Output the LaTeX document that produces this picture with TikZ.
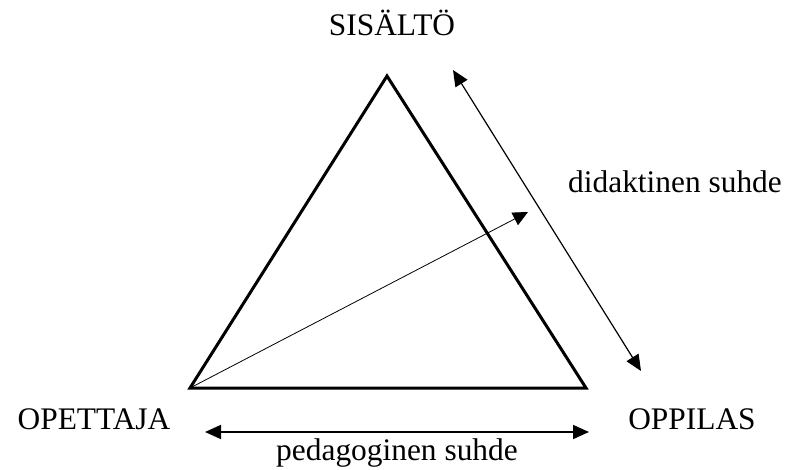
\documentclass[tikz,border=0pt]{standalone}
\usepackage{fontspec}
\setmainfont{Liberation Serif}
\usetikzlibrary{arrows.meta}

\begin{document}
\begin{tikzpicture}[
    x=0.5pt, y=-0.5pt,
    % Define the style for the triangle sides
    side/.style={line width=1.5pt, line join=miter},
    % Define the style for the relation arrows
    rel/.style={line width=0.6pt, {Triangle[length=8pt,width=7pt]}-{Triangle[length=8pt,width=7pt]}},
    % Font settings
    font=\fontsize{15.7}{18}\selectfont
]
    \useasboundingbox (0,0) rectangle (787,470);

    % --- Corners ---
    \coordinate (apex) at (387,76);
    \coordinate (left) at (190,388);
    \coordinate (right) at (586,388);

    % --- Labels ---
    \node[anchor=base] (sisalto) at (392,36) {SISÄLTÖ};
    \node[anchor=base] (opettaja) at (94,429) {OPETTAJA};
    \node[anchor=base] (oppilas) at (692,429) {OPPILAS};
    \node[anchor=base] (didaktinen) at (675,193) {didaktinen suhde};
    \node[anchor=base] (pedagoginen) at (397,460) {pedagoginen suhde};

    % --- Triangle ---
    \draw[side] (left) -- (apex) -- (right) -- cycle;

    % --- Arrows ---
    \coordinate (d1) at (453,70);
    \coordinate (d2) at (641,371);
    \coordinate (p1) at (205,432);
    \coordinate (p2) at (589,432);
    \coordinate (tip) at (528,212);

    \draw[rel] (d1) -- (d2);
    \draw[rel, line width=0.9pt] (p1) -- (p2);
    \draw[line width=0.4pt, -{Triangle[length=7.5pt,width=7pt]}] (left) -- (tip);
\end{tikzpicture}
\end{document}
